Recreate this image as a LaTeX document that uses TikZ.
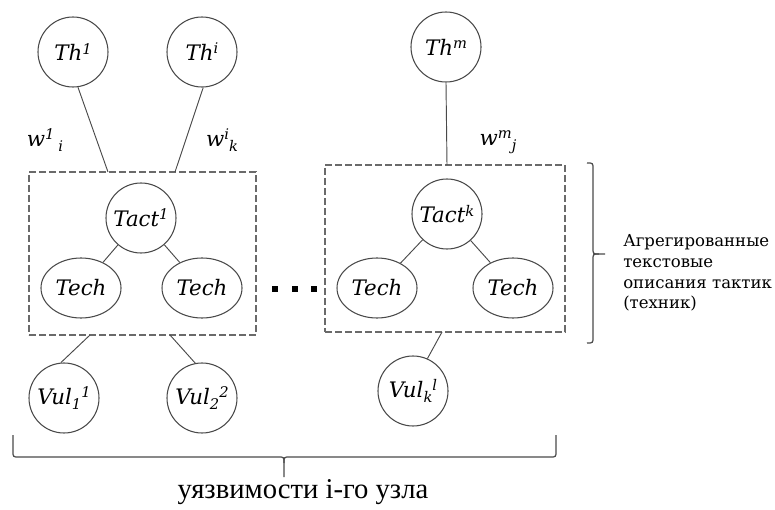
\documentclass[tikz,border=0pt]{standalone}
\usepackage{fontspec}
\setmainfont{DejaVu Serif}
\newfontfamily\timesf{Liberation Serif}
\usetikzlibrary{shapes.geometric}
\newcommand\upx[1]{\raisebox{0.32em}{\fontsize{11}{11}\selectfont #1}}
\newcommand\dnx[1]{\raisebox{-0.22em}{\fontsize{11}{11}\selectfont #1}}
\definecolor{edge}{HTML}{4A4A4A}
\definecolor{boxc}{HTML}{6A6A6A}
\tikzset{
  lbl/.style={font=\fontsize{16}{19}\selectfont\itshape},
  circ/.style={circle, draw=edge, line width=0.8pt, minimum size=52.5pt, inner sep=0pt, lbl},
  ell/.style={ellipse, draw=edge, line width=0.8pt, minimum width=60pt, minimum height=45pt, inner sep=0pt, lbl},
  dbox/.style={draw=boxc, line width=0.8pt, dash pattern=on 5pt off 2.5pt, inner sep=0pt},
  conn/.style={draw=edge, line width=0.7pt},
  brc/.style={draw=edge, line width=0.9pt},
  dotsq/.style={fill=black, minimum size=4pt, inner sep=0pt},
  wlab/.style={lbl, inner sep=0pt}
}
\begin{document}
\begin{tikzpicture}[x=0.75pt, y=-0.75pt]
\useasboundingbox (0,0) rectangle (775,510);
% boxes
\node[dbox, minimum width=170.25pt, minimum height=122.25pt] (box1) at (142.5,253.5) {};
\node[dbox, minimum width=180pt, minimum height=125.25pt] (box2) at (445,248.5) {};
% threat nodes
\node[circ] (th1) at (73,52) {Th\upx{1}};
\node[circ] (thi) at (202,52) {Th\upx{i}};
\node[circ] (thm) at (446,47) {Th\upx{m}};
% tactics
\node[circ] (tact1) at (141,218) {Tact\upx{1}};
\node[circ] (tactk) at (447,214) {Tact\upx{k}};
% techniques
\node[ell] (tech1) at (81,288) {Tech};
\node[ell] (tech2) at (202,288) {Tech};
\node[ell] (tech3) at (377,288) {Tech};
\node[ell] (tech4) at (513,288) {Tech};
% vulnerabilities
\node[circ] (vul1) at (64,398) {Vul\dnx{1}\upx{1}};
\node[circ] (vul2) at (202,398) {Vul\dnx{2}\upx{2}};
\node[circ] (vul3) at (413,391) {Vul\dnx{k}\upx{l}};
% weight labels
\node[wlab] (w1) at (45,140) {w\upx{1}\hspace{3pt}\dnx{i}};
\node[wlab] (w2) at (222,140) {w\upx{i}\dnx{k}};
\node[wlab] (w3) at (498,142) {w\upx{m}\dnx{j}};
% attach points
\coordinate (a1) at (108,172);
\coordinate (a2) at (175,172);
\coordinate (a3) at (447,165);
\coordinate (b1) at (90,335);
\coordinate (b2) at (170,335);
\coordinate (b3) at (442,332);
% connectors
\draw[conn] (th1.-82) -- (a1);
\draw[conn] (thi.-88) -- (a2);
\draw[conn] (thm.south) -- (a3);
\draw[conn] (tact1) -- (tech1);
\draw[conn] (tact1) -- (tech2);
\draw[conn] (tactk) -- (tech3);
\draw[conn] (tactk) -- (tech4);
\draw[conn] (b1) -- (vul1.95);
\draw[conn] (b2) -- (vul2.101);
\draw[conn] (b3) -- (vul3.66);
% dots
\node[dotsq] (d1) at (275,289) {};
\node[dotsq] (d2) at (295,289) {};
\node[dotsq] (d3) at (314,289) {};
% right brace
\draw[brc] (587,163) .. controls (593,163) .. (593,169) -- (593,248) .. controls (593,254) .. (599,254) -- (605,254);
\draw[brc] (599,254) .. controls (593,254) .. (593,260) -- (593,337) .. controls (593,343) .. (587,343);
\node[anchor=west, align=left, font=\fontsize{12.4}{15.6}\selectfont, inner sep=0pt] (desc) at (623,273) {Агрегированные\\текстовые\\описания тактик\\(техник)};
% bottom brace
\draw[brc] (13,435) -- (13,451) .. controls (13,457) .. (19,457) -- (278,457) .. controls (284,457) .. (284,463) -- (284,477);
\draw[brc] (284,463) .. controls (284,457) .. (290,457) -- (550,457) .. controls (556,457) .. (556,451) -- (556,435);
\node[font=\fontsize{21.5}{24}\selectfont\timesf, inner sep=0pt] (vtext) at (303,492) {уязвимости i-го узла};
\end{tikzpicture}
\end{document}
